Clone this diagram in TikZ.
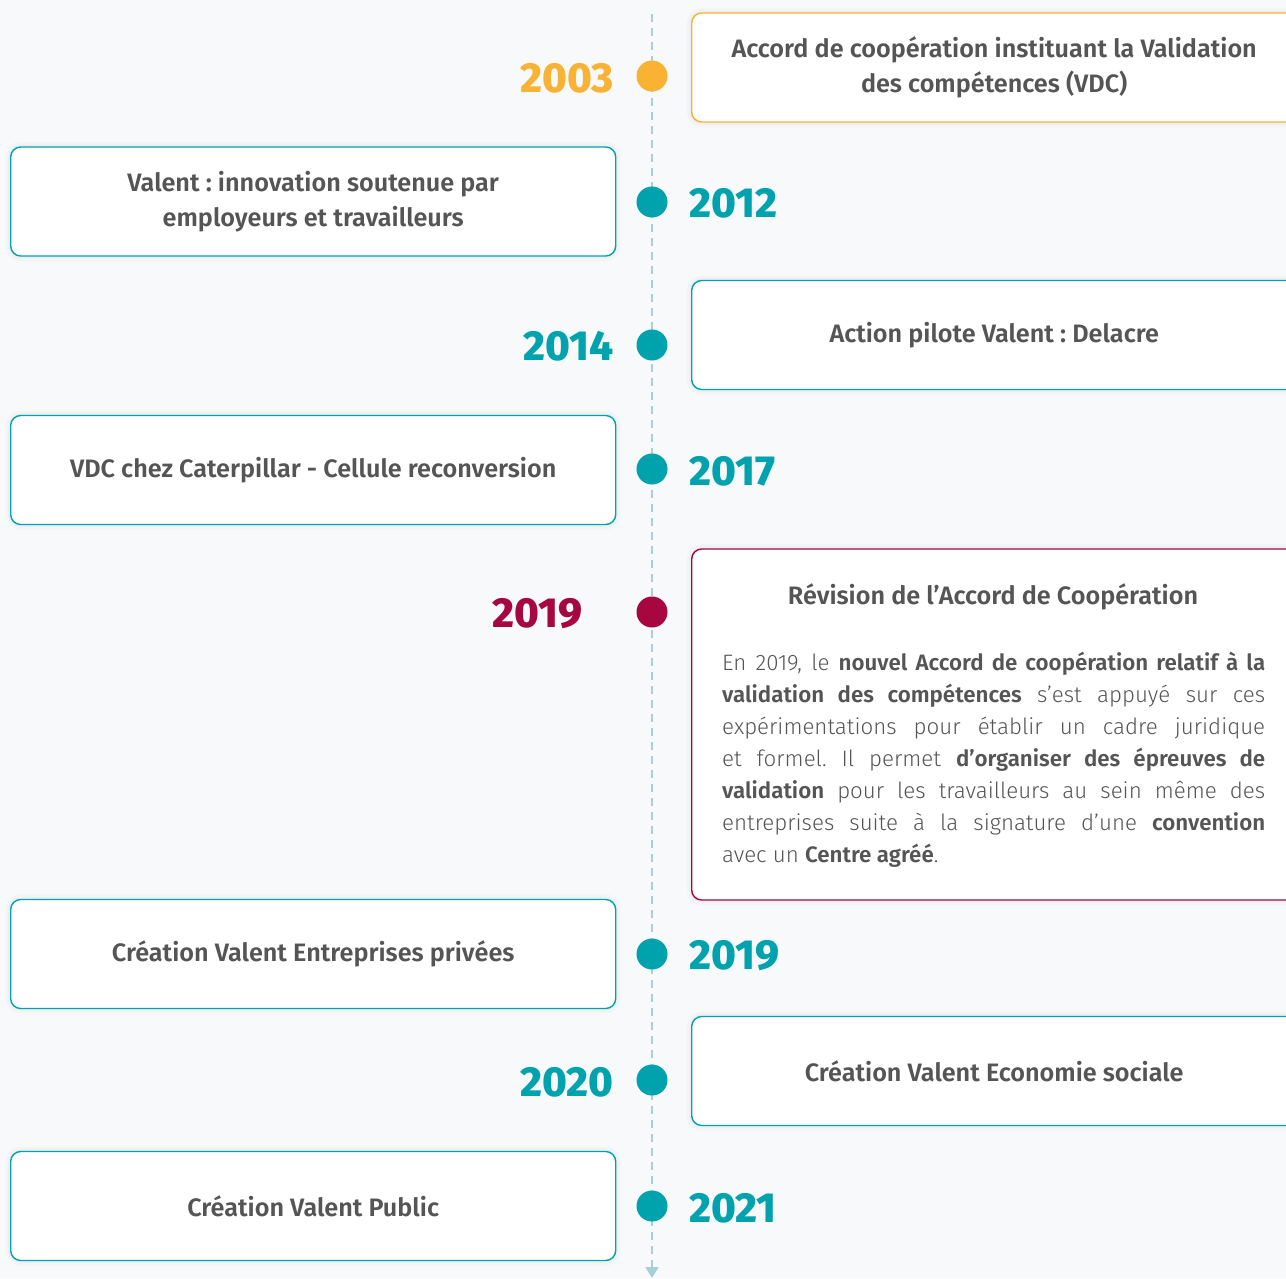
\documentclass[tikz,border=0pt]{standalone}
\usepackage{fontspec}
\setmainfont{Fira Sans}
\newfontfamily\yearfont{Fira Sans}[UprightFont=* ExtraBold]
\newfontfamily\titlefont{Fira Sans}[UprightFont=* SemiBold]
\newfontfamily\bodyfont{Fira Sans}[UprightFont=* Light, BoldFont=* SemiBold]
\frenchspacing
\definecolor{bg}{HTML}{F7F9FB}
\definecolor{orng}{HTML}{F9B233}
\definecolor{teal}{HTML}{00A3AD}
\definecolor{crim}{HTML}{A6073F}
\definecolor{txt}{HTML}{555555}
\definecolor{axis}{HTML}{A6CFD6}
\usetikzlibrary{arrows.meta}
\begin{document}
\begin{tikzpicture}[x=1pt,y=-1pt,
  evbox/.style={draw=#1, line width=1.4pt, fill=white, rounded corners=10pt,
    minimum width=605pt, minimum height=109pt, inner sep=0pt, anchor=west,
    text=txt, align=center, font=\titlefont\fontsize{25.2}{35}\selectfont,
    preaction={draw=black!60, draw opacity=0.03, line width=10pt},
    preaction={draw=black!60, draw opacity=0.03, line width=5pt}},
  dot/.style={circle, fill=#1, minimum size=31pt, inner sep=0pt},
  yr/.style={text=#1, inner sep=0pt, font=\yearfont\fontsize{42}{42}\selectfont}]
\useasboundingbox (0,0) rectangle (1286,1278);
\fill[bg] (0,0) rectangle (1286,1278);
% axis
\coordinate (top) at (652,14);
\coordinate (bot) at (652,1278);
\draw[axis, line width=2pt, dash pattern=on 8pt off 6pt,
  -{Triangle[width=13pt,length=11pt]}] (top) -- (bot);
% boxes
\node[evbox=orng] (b2003) at (691,67.5) {Accord de coopération instituant la Validation\\des compétences (VDC)};
\node[evbox=teal] (b2012) at (10,201.5) {Valent : innovation soutenue par\\employeurs et travailleurs};
\node[evbox=teal] (b2014) at (691,335) {Action pilote Valent : Delacre};
\node[evbox=teal] (b2017) at (10,470) {VDC chez Caterpillar - Cellule reconversion};
\node[evbox=crim, minimum height=351pt] (b2019a) at (691,724.5) {};
\node[evbox=teal] (b2019b) at (10,954) {Création Valent Entreprises privées};
\node[evbox=teal] (b2020) at (691,1071) {Création Valent Economie sociale};
\node[evbox=teal] (b2021) at (10,1206) {Création Valent Public};
% detailed box content
\node[text=txt, font=\titlefont\fontsize{25.2}{35}\selectfont, inner sep=0pt] (t2019) at (993,597) {Révision de l’Accord de Coopération};
\node[text=txt, anchor=north west, inner sep=0pt, text width=543pt, align=justify,
  font=\bodyfont\fontsize{22.3}{32}\selectfont] (d2019) at (722,652)
  {\parindent=0pt\parfillskip=0pt
  En 2019, le \textbf{nouvel Accord de coopération relatif à la}\par
  \textbf{validation des compétences} s’est appuyé sur ces\par
  expérimentations pour établir un cadre juridique\par
  et formel. Il permet \textbf{d’organiser des épreuves de}\par
  \textbf{validation} pour les travailleurs au sein même des\par
  entreprises suite à la signature d’une \textbf{convention}\par
  \parfillskip=0pt plus 1fil avec un \textbf{Centre agréé}.};
% dots
\node[dot=orng] (d2003) at (652,76) {};
\node[dot=teal] (d2012) at (652,202) {};
\node[dot=teal] (d2014) at (652,345) {};
\node[dot=teal] (d2017) at (652,469) {};
\node[dot=crim] (d2019a) at (652,612) {};
\node[dot=teal] (d2019b) at (652,954) {};
\node[dot=teal] (d2020) at (652,1080) {};
\node[dot=teal] (d2021) at (652,1206) {};
% years
\node[yr=orng, anchor=east] (y2003) at (614,78) {2003};
\node[yr=teal, anchor=west] (y2012) at (689,203) {2012};
\node[yr=teal, anchor=east] (y2014) at (614,346) {2014};
\node[yr=teal, anchor=west] (y2017) at (689,471) {2017};
\node[yr=crim, anchor=east] (y2019a) at (583,614) {2019};
\node[yr=teal, anchor=west] (y2019b) at (689,956) {2019};
\node[yr=teal, anchor=east] (y2020) at (614,1082) {2020};
\node[yr=teal, anchor=west] (y2021) at (689,1208) {2021};
\end{tikzpicture}
\end{document}
